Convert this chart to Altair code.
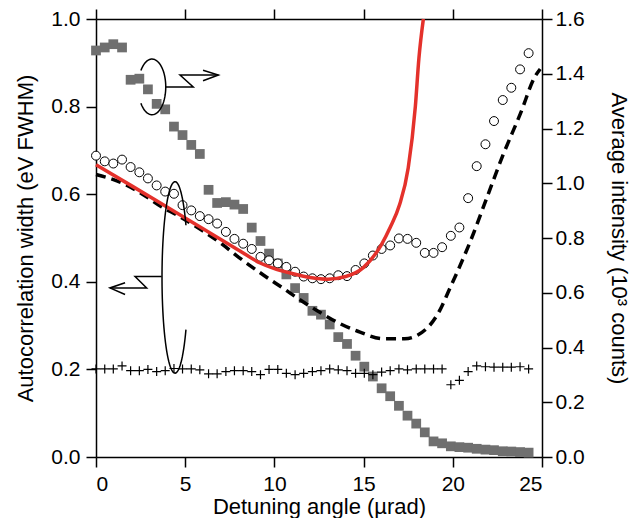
import altair as alt
import pandas as pd
import numpy as np

# ---------------- data ----------------
x_grid = [0.0, 0.49, 0.97, 1.46, 1.94, 2.43, 2.91, 3.40, 3.88, 4.37, 4.85, 5.34, 5.82,
          6.31, 6.79, 7.28, 7.76, 8.25, 8.73, 9.22, 9.70, 10.19, 10.67, 11.16, 11.64,
          12.13, 12.61, 13.10, 13.58, 14.07, 14.55, 15.04, 15.52, 16.01, 16.49, 16.98,
          17.46, 17.95, 18.43, 18.92, 19.40, 19.89, 20.37, 20.86, 21.34, 21.83, 22.31,
          22.80, 23.28, 23.77, 24.25]

# average intensity (10^3 counts), right axis, grey squares
intensity = [1.485, 1.496, 1.508, 1.496, 1.378, 1.382, 1.343, 1.290, 1.270, 1.207,
             1.176, 1.140, 1.107, 0.976, 0.928, 0.931, 0.922, 0.906, 0.838, 0.789,
             0.743, 0.707, 0.667, 0.617, 0.581, 0.534, 0.520, 0.484, 0.438, 0.413,
             0.370, 0.330, 0.294, 0.251, 0.222, 0.187, 0.151, 0.122, 0.090, 0.057,
             0.050, 0.039, 0.036, 0.034, 0.030, 0.027, 0.025, 0.021, 0.020, 0.018, 0.016]

# autocorrelation width (eV FWHM), left axis, open circles
width_open = [0.688, 0.675, 0.670, 0.679, 0.662, 0.650, 0.636, 0.620, 0.606, 0.601,
              0.575, 0.563, 0.550, 0.543, 0.533, 0.514, 0.498, 0.487, 0.475, 0.457,
              0.449, 0.442, 0.434, 0.423, 0.412, 0.408, 0.406, 0.408, 0.415, 0.413,
              0.427, 0.442, 0.460, 0.475, 0.483, 0.499, 0.498, 0.489, 0.466, 0.466,
              0.479, 0.505, 0.524, 0.591, 0.664, 0.714, 0.767, 0.815, 0.843, 0.885, 0.922]

# autocorrelation width, crosses
width_cross = [0.201, 0.201, 0.201, 0.208, 0.197, 0.197, 0.200, 0.195, 0.197, 0.202,
               0.201, 0.201, 0.199, 0.190, 0.190, 0.195, 0.197, 0.197, 0.195, 0.188,
               0.200, 0.200, 0.191, 0.188, 0.191, 0.195, 0.197, 0.201, 0.199, 0.197,
               0.191, 0.191, 0.188, 0.194, 0.197, 0.201, 0.199, 0.201, 0.201, 0.201,
               0.201, 0.165, 0.175, 0.195, 0.208, 0.206, 0.205, 0.205, 0.205, 0.206, 0.201]

# red solid curve
red_x = [0.0, 2.0, 4.0, 6.0, 8.0, 9.2, 10.0, 11.0, 12.0, 13.0, 14.0, 15.0, 16.0,
         16.5, 17.0, 17.5, 17.9, 18.1, 18.35]
red_y = [0.667, 0.619, 0.570, 0.521, 0.472, 0.443, 0.430, 0.419, 0.410, 0.406, 0.412,
         0.433, 0.485, 0.525, 0.574, 0.660, 0.800, 0.910, 1.0]

# black dashed curve
dash_x = [0.0, 1.5, 2.65, 3.6, 4.6, 6.0, 7.0, 8.0, 9.4, 10.5, 11.4, 12.4, 13.7, 14.8,
          16.1, 17.3, 18.5, 19.3, 19.8, 20.3, 21.0, 21.9, 22.8, 23.8, 24.6, 24.9]
dash_y = [0.645, 0.625, 0.599, 0.573, 0.551, 0.516, 0.488, 0.456, 0.415, 0.385, 0.360,
          0.334, 0.304, 0.285, 0.270, 0.270, 0.292, 0.337, 0.382, 0.427, 0.494, 0.591,
          0.688, 0.785, 0.868, 0.886]

# annotation shapes (data units of the left axis)
ell1 = dict(cx=3.14, cy=0.845, rx=0.77, ry=0.0635, t0=-144, t1=144)
ell2 = dict(cx=4.43, cy=0.41, rx=0.73, ry=0.2186, t0=33, t1=327)
bolt1_x = [3.92, 5.45, 4.71, 6.86]
bolt1_y = [0.845, 0.845, 0.872, 0.872]
head1_x = [6.0, 6.86, 6.0]
head1_y = [0.883, 0.872, 0.859]
bolt2_x = [3.68, 2.19, 2.84, 0.78]
bolt2_y = [0.412, 0.412, 0.386, 0.386]
head2_x = [1.63, 0.78, 1.63]
head2_y = [0.398, 0.386, 0.371]

# ---------------- tables ----------------
df_sq = pd.DataFrame({"x": x_grid, "v": intensity})
df_c = pd.DataFrame({"x": x_grid, "w": width_open})
df_p = pd.DataFrame({"x": x_grid, "w": width_cross})
df_red = pd.DataFrame({"x": red_x, "w": red_y})
df_dash = pd.DataFrame({"x": dash_x, "w": dash_y})

rows = []
def add_path(name, xs, ys):
    for k, (a, b) in enumerate(zip(xs, ys)):
        rows.append({"g": name, "o": k, "x": a, "w": b})

for name, e in (("e1", ell1), ("e2", ell2)):
    t = np.radians(np.linspace(e["t0"], e["t1"], 80))
    add_path(name, e["cx"] + e["rx"] * np.cos(t), e["cy"] + e["ry"] * np.sin(t))
add_path("b1", bolt1_x, bolt1_y)
add_path("h1", head1_x, head1_y)
add_path("b2", bolt2_x, bolt2_y)
add_path("h2", head2_x, head2_y)
df_ann = pd.DataFrame(rows)

# ---------------- scales / axes ----------------
FONT = "Liberation Sans"
xs = alt.Scale(domain=[0, 25], nice=False)
ys_left = alt.Scale(domain=[0, 1], nice=False)
ys_right = alt.Scale(domain=[0, 1.6], nice=False)

axis_common = dict(domainColor="black", domainWidth=1.5, tickColor="black",
                   tickWidth=1.5, tickSize=10, labelFont=FONT, labelFontSize=21,
                   labelColor="black", titleFont=FONT, titleFontSize=22,
                   titleFontWeight="normal", titleColor="black", grid=False)

x_bottom = alt.X("x:Q", scale=xs, axis=alt.Axis(
    orient="bottom", values=[0, 5, 10, 15, 20, 25], format="d",
    title="Detuning angle (µrad)", labelPadding=6, titlePadding=2, **axis_common))
x_top = alt.X("x:Q", scale=xs, axis=alt.Axis(
    orient="top", values=[0, 5, 10, 15, 20, 25], labels=False, title=None,
    **axis_common))
x_none = alt.X("x:Q", scale=xs, axis=None)

y_left = alt.Y("w:Q", scale=ys_left, axis=alt.Axis(
    orient="left", values=[0, 0.2, 0.4, 0.6, 0.8, 1.0], format=".1f",
    title="Autocorrelation width (eV FWHM)", labelPadding=6, titlePadding=13,
    **axis_common))
y_left_none = alt.Y("w:Q", scale=ys_left, axis=None)
y_right = alt.Y("v:Q", scale=ys_right, axis=alt.Axis(
    orient="right", values=[0, 0.2, 0.4, 0.6, 0.8, 1.0, 1.2, 1.4, 1.6], format=".1f",
    title="Average intensity (10³ counts)", labelPadding=3, titlePadding=22,
    **axis_common))

# ---------------- layers ----------------
squares = alt.Chart(df_sq).mark_point(
    shape="square", filled=True, size=95, color="#6f6f6f", opacity=1
).encode(x=x_top, y=y_right)

dashed = alt.Chart(df_dash).mark_line(
    color="black", strokeWidth=3.5, strokeDash=[10, 6], interpolate="monotone"
).encode(x=x_none, y=y_left_none)

circles = alt.Chart(df_c).mark_point(
    shape="circle", filled=True, fill="white", stroke="black", strokeWidth=1,
    size=80, opacity=1
).encode(x=x_bottom, y=y_left)

red = alt.Chart(df_red).mark_line(
    color="#e4312b", strokeWidth=3.5, interpolate="monotone"
).encode(x=x_none, y=y_left_none)

crosses = alt.Chart(df_p).mark_point(
    shape="M-1,0L1,0M0,-1L0,1", filled=False, stroke="black", strokeWidth=1.2,
    size=81, opacity=1
).encode(x=x_none, y=y_left_none)

ann = alt.Chart(df_ann).mark_line(color="black", strokeWidth=1.5).encode(
    x=x_none, y=y_left_none, detail="g:N", order="o:Q")

chart = alt.layer(squares, dashed, circles, red, crosses, ann).resolve_scale(
    y="independent"
).resolve_axis(x="independent", y="independent").properties(
    width=446, height=438,
    autosize=alt.AutoSizeParams(type="none"),
    padding={"left": 88, "top": 11, "right": 90, "bottom": 61},
    background="white",
).configure_view(stroke=None).configure(font=FONT)

chart.save("out.html", embed_options={"renderer": "svg", "actions": False})
